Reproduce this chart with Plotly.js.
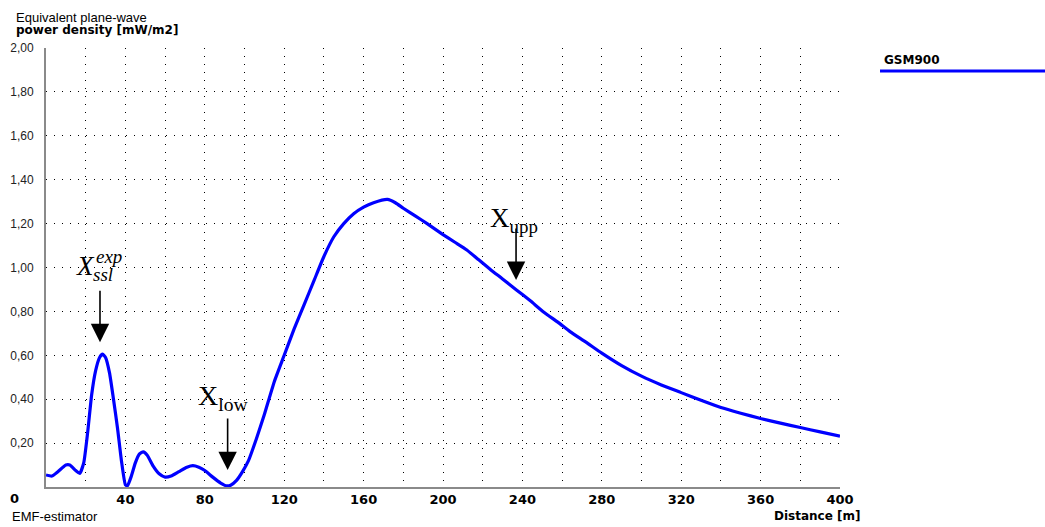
<!DOCTYPE html>
<html>
<head>
<meta charset="utf-8">
<script src="https://cdn.plot.ly/plotly-3.0.1.min.js"></script>
<style>html,body{margin:0;padding:0;background:#fff;}#chart{width:1045px;height:527px;}</style>
</head>
<body>
<div id="chart"></div>
<script>
// Data
const distance = [0, 3, 6, 10, 12, 15, 17, 19, 21, 23, 25, 27, 28.5, 30, 32, 34, 36, 38, 40, 41, 43, 45, 47, 49, 51, 54, 57, 60, 63, 67, 71, 74, 77, 80, 84, 88, 91, 93, 96, 99, 102, 106, 110, 115, 120, 125, 130, 135, 140, 145, 150, 155, 160, 165, 172, 176, 180, 186, 192, 200, 206, 212, 218, 224, 230, 237, 244, 251, 258, 264, 272, 280, 290, 300, 310, 320, 330, 340, 350, 360, 370, 380, 390, 400];
const powerDensity = [0.055, 0.05, 0.07, 0.10, 0.10, 0.075, 0.062, 0.11, 0.25, 0.42, 0.53, 0.59, 0.605, 0.59, 0.52, 0.40, 0.27, 0.12, 0.01, 0.005, 0.05, 0.11, 0.15, 0.16, 0.145, 0.095, 0.06, 0.045, 0.05, 0.07, 0.09, 0.097, 0.09, 0.075, 0.045, 0.018, 0.005, 0.008, 0.03, 0.07, 0.12, 0.22, 0.33, 0.48, 0.60, 0.72, 0.83, 0.94, 1.05, 1.14, 1.20, 1.245, 1.275, 1.295, 1.31, 1.295, 1.27, 1.235, 1.20, 1.15, 1.115, 1.08, 1.035, 0.99, 0.948, 0.898, 0.848, 0.795, 0.75, 0.708, 0.66, 0.61, 0.553, 0.505, 0.465, 0.43, 0.395, 0.362, 0.336, 0.312, 0.291, 0.271, 0.251, 0.232];
const seriesName = "GSM900";
const xTickVals = [20, 40, 60, 80, 100, 120, 140, 160, 180, 200, 220, 240, 260, 280, 300, 320, 340, 360, 380, 400];
const xTickText = ["", "40", "", "80", "", "120", "", "160", "", "200", "", "240", "", "280", "", "320", "", "360", "", "400"];
const yTickVals = [0.2, 0.4, 0.6, 0.8, 1.0, 1.2, 1.4, 1.6, 1.8, 2.0];
const yTickText = ["0,20", "0,40", "0,60", "0,80", "1,00", "1,20", "1,40", "1,60", "1,80", "2,00"];
// marker points (arrow tips) for the annotations
const markerX = [27.2, 91.5, 236.8];
const markerY = [0.66, 0.077, 0.943];

const blue = "#0000ff";
const boldFont = {family: "DejaVu Sans", size: 12, color: "#000"};
const regFont = {family: "Liberation Sans", size: 13, color: "#000"};
const serif = "Liberation Serif";

const trace = {
  x: distance, y: powerDensity, type: "scatter", mode: "lines", name: seriesName,
  line: {color: blue, width: 3.2, shape: "spline", smoothing: 0.5},
  showlegend: false, hoverinfo: "x+y"
};

const annotations = [];
// arrows
for (let i = 0; i < markerX.length; i++) {
  annotations.push({x: markerX[i], y: markerY[i], xref: "x", yref: "y", text: "", showarrow: true,
    arrowhead: 2, arrowsize: 2.3, arrowwidth: 1.6, arrowcolor: "#000", ax: 0, ay: -53, standoff: 0});
}
// labels
annotations.push({x: (85 - 46) / 1.985, y: (487 - 266) / 219.4, xref: "x", yref: "y", text: "<i>X</i>", showarrow: false,
  font: {family: serif, size: 27, color: "#000"}, xanchor: "center", yanchor: "middle"});
annotations.push({x: (94 - 46) / 1.985, y: (487 - 257) / 219.4, xref: "x", yref: "y", text: "<i>exp</i>", showarrow: false,
  font: {family: serif, size: 19, color: "#000"}, xanchor: "left", yanchor: "middle"});
annotations.push({x: (91 - 46) / 1.985, y: (487 - 275) / 219.4, xref: "x", yref: "y", text: "<i>ssl</i>", showarrow: false,
  font: {family: serif, size: 19, color: "#000"}, xanchor: "left", yanchor: "middle"});
annotations.push({x: (196 - 46) / 1.985, y: (487 - 398) / 219.4, xref: "x", yref: "y", text: "X<sub>low</sub>", showarrow: false,
  font: {family: serif, size: 28, color: "#000"}, xanchor: "left", yanchor: "middle"});
annotations.push({x: (488 - 46) / 1.985, y: (487 - 220) / 219.4, xref: "x", yref: "y", text: "X<sub>upp</sub>", showarrow: false,
  font: {family: serif, size: 27, color: "#000"}, xanchor: "left", yanchor: "middle"});
// titles and texts
annotations.push({xref: "paper", yref: "paper", x: -0.0403, y: 1.0706, text: "Equivalent plane-wave", showarrow: false,
  font: regFont, xanchor: "left", yanchor: "middle"});
annotations.push({xref: "paper", yref: "paper", x: -0.0403, y: 1.041, text: "<b>power density [mW/m2]</b>", showarrow: false,
  font: boldFont, xanchor: "left", yanchor: "middle"});
annotations.push({xref: "paper", yref: "paper", x: -0.0403, y: -0.0273, text: "<b>0</b>", showarrow: false,
  font: {family: "DejaVu Sans", size: 13, color: "#000"}, xanchor: "center", yanchor: "middle"});
annotations.push({xref: "paper", yref: "paper", x: -0.0453, y: -0.0683, text: "EMF-estimator", showarrow: false,
  font: regFont, xanchor: "left", yanchor: "middle"});
annotations.push({xref: "paper", yref: "paper", x: 1.029, y: -0.0650, text: "<b>Distance [m]</b>", showarrow: false,
  font: boldFont, xanchor: "right", yanchor: "middle"});
annotations.push({xref: "paper", yref: "paper", x: 1.0529, y: 0.9727, text: "<b>" + seriesName + "</b>", showarrow: false,
  font: boldFont, xanchor: "left", yanchor: "middle"});

const layout = {
  width: 1045, height: 527,
  margin: {l: 46, r: 205, t: 48, b: 40},
  paper_bgcolor: "#fff", plot_bgcolor: "#fff",
  xaxis: {
    range: [0, 400], tickmode: "array", tickvals: xTickVals, ticktext: xTickText,
    showgrid: true, gridcolor: "#000", gridwidth: 1, griddash: "1px,7px",
    zeroline: false, showline: true, linecolor: "#8a8a8a", linewidth: 2,
    ticks: "", ticklabelstandoff: -1,
    tickfont: {family: "DejaVu Sans", size: 13, color: "#000", weight: "bold"},
    fixedrange: true
  },
  yaxis: {
    range: [0, 2], tickmode: "array", tickvals: yTickVals, ticktext: yTickText,
    showgrid: true, gridcolor: "#000", gridwidth: 1, griddash: "1px,7px",
    zeroline: false, showline: true, linecolor: "#8a8a8a", linewidth: 2,
    ticks: "", ticklabelstandoff: 8,
    tickfont: {family: "Liberation Sans", size: 12, color: "#222"},
    fixedrange: true
  },
  shapes: [{type: "line", xref: "paper", yref: "paper", x0: 1.0504, x1: 1.2582, y0: 0.9476, y1: 0.9476,
    line: {color: blue, width: 3}}],
  annotations: annotations
};

Plotly.newPlot("chart", [trace], layout, {displayModeBar: false, staticPlot: true});
</script>
</body>
</html>
